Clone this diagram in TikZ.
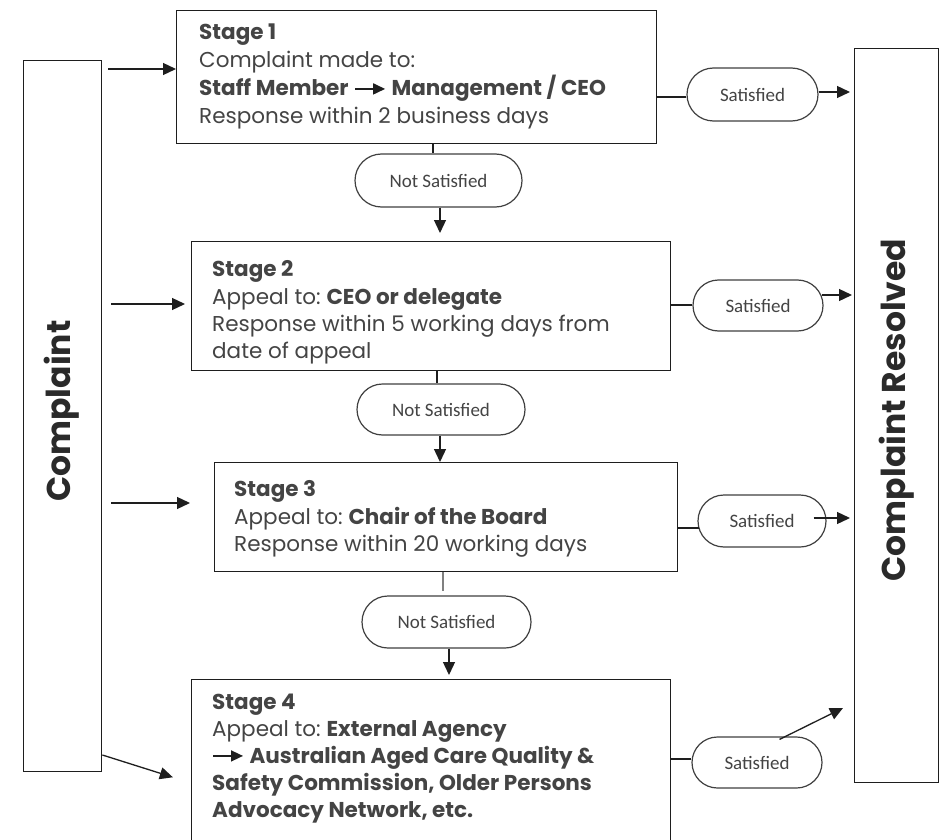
\documentclass[tikz,border=0pt]{standalone}
\usepackage{fontspec}
\setmainfont{Poppins}
\newfontfamily\pillfont{Carlito}
\usetikzlibrary{arrows.meta,shapes.misc,calc}
\definecolor{txtgray}{HTML}{444444}
\definecolor{boldgray}{HTML}{2A2A2A}
\definecolor{linecol}{HTML}{1E1E1E}
\newcommand\inarr{\tikz[baseline=-0.6ex]\draw[linecol,line width=1.6pt,-{Triangle[length=12pt,width=11pt]}] (0pt,0pt)--(30pt,0pt);}
\begin{document}
\begin{tikzpicture}[x=1pt,y=-1pt,
  box/.style={draw=linecol,line width=1.4pt,anchor=north west,inner sep=0pt,fill=white},
  pill/.style={rounded rectangle,draw=linecol!85,line width=1.2pt,inner sep=0pt,font=\pillfont\fontsize{19}{22}\selectfont,text=txtgray},
  txt/.style={anchor=base west,inner sep=0pt,font=\fontsize{21.5}{26}\selectfont,text=txtgray},
  vtxt/.style={rotate=90,inner sep=0pt,font=\bfseries\fontsize{33}{36}\selectfont,text=boldgray},
  conn/.style={draw=linecol,line width=1.3pt},
  arr/.style={conn,-{Triangle[length=13pt,width=12pt]}}
]
\useasboundingbox (0,0) rectangle (940,840);
\clip (0,0) rectangle (940,840);
\fill[white] (0,0) rectangle (940,840);

% side boxes
\node[box,minimum width=78pt,minimum height=711pt] (cmp) at (23,60) {};
\node[box,minimum width=84pt,minimum height=734pt] (res) at (854,48) {};
\node[vtxt] (cmpt) at (62,411) {Complaint};
\node[vtxt] (rest) at (897,410) {Complaint Resolved};

% stage boxes
\node[box,minimum width=480pt,minimum height=133pt] (st1) at (176,10) {};
\node[box,minimum width=479pt,minimum height=129pt] (st2) at (191,241) {};
\node[box,minimum width=463pt,minimum height=109pt] (st3) at (214,462) {};
\node[box,minimum width=479pt,minimum height=190pt] (st4) at (191,679) {};

% stage 1 text
\node[txt] (s1a) at (199,40) {\textbf{Stage 1}};
\node[txt] (s1b) at (199,68) {Complaint made to:};
\node[txt] (s1c) at (199,96) {\textbf{Staff Member} \inarr\ \textbf{Management / CEO}};
\node[txt] (s1d) at (199,124) {Response within 2 business days};
% stage 2 text
\node[txt] (s2a) at (212,276) {\textbf{Stage 2}};
\node[txt] (s2b) at (212,304) {Appeal to:\ \textbf{CEO or delegate}};
\node[txt] (s2c) at (212,331) {Response within 5 working days from};
\node[txt] (s2d) at (212,358) {date of appeal};
% stage 3 text
\node[txt] (s3a) at (234,496) {\textbf{Stage 3}};
\node[txt] (s3b) at (234,524) {Appeal to:\ \textbf{Chair of the Board}};
\node[txt] (s3c) at (234,551) {Response within 20 working days};
% stage 4 text
\node[txt] (s4a) at (212,709) {\textbf{Stage 4}};
\node[txt] (s4b) at (212,736) {Appeal to:\ \textbf{External Agency}};
\node[txt] (s4c) at (212,763) {\inarr\ \textbf{Australian Aged Care Quality \&}};
\node[txt] (s4d) at (212,790) {\textbf{Safety Commission, Older Persons}};
\node[txt] (s4e) at (212,817) {\textbf{Advocacy Network, etc.}};

% pills
\node[pill,minimum width=167pt,minimum height=53pt] (ns1) at (438.5,180.5) {Not Satisfied};
\node[pill,minimum width=168pt,minimum height=51pt] (ns2) at (441,409.5) {Not Satisfied};
\node[pill,minimum width=169pt,minimum height=52pt] (ns3) at (446.5,622) {Not Satisfied};
\node[pill,minimum width=131pt,minimum height=53pt] (sa1) at (752.5,94.5) {Satisfied};
\node[pill,minimum width=130pt,minimum height=51pt] (sa2) at (758,305.5) {Satisfied};
\node[pill,minimum width=128pt,minimum height=52pt] (sa3) at (762,521) {Satisfied};
\node[pill,minimum width=130pt,minimum height=51pt] (sa4) at (757,762.5) {Satisfied};

% complaint arrows
\draw[arr,shorten <=6pt] (cmp.east |- 0,69) -- (st1.west |- 0,69);
\draw[arr,shorten <=9pt,shorten >=6pt] (cmp.east |- 0,304) -- (st2.west |- 0,304);
\draw[arr,shorten <=9pt,shorten >=24pt] (cmp.east |- 0,503) -- (st3.west |- 0,503);
\draw[arr,shorten >=19pt] (cmp.east |- 0,755) -- (st4.west |- 0,783);

% not satisfied chain
\draw[conn] (st1.south -| 433,0) -- (ns1.north -| 433,0);
\draw[arr,shorten >=8pt] (ns1.south -| 440,0) -- (st2.north -| 440,0);
\draw[conn] (st2.south -| 437,0) -- (ns2.north -| 437,0);
\draw[arr] (ns2.south -| 440,0) -- (st3.north -| 440,0);
\draw[conn,draw=gray,shorten >=4pt] (st3.south -| 443,0) -- (ns3.north -| 443,0);
\draw[arr,shorten >=4pt] (ns3.south -| 449,0) -- (st4.north -| 449,0);

% satisfied branches
\draw[conn] (st1.east |- 0,97) -- (sa1.west |- 0,97);
\draw[arr,shorten >=4pt] (sa1.east |- 0,92) -- (res.west |- 0,92);
\draw[conn] (st2.east |- 0,305) -- (sa2.west |- 0,305);
\draw[arr,shorten >=2pt] ([xshift=-2pt]sa2.east |- 0,295) -- (res.west |- 0,295);
\draw[conn] (st3.east |- 0,528) -- ([xshift=2pt]sa3.west |- 0,528);
\draw[arr,shorten >=4pt] ([xshift=-13pt]sa3.east |- 0,518) -- (res.west |- 0,518);
\draw[conn] (st4.east |- 0,759) -- (sa4.west |- 0,759);
\draw[arr] ($(sa4.north east)+(-17,3)$) -- (843,708);
\end{tikzpicture}
\end{document}
